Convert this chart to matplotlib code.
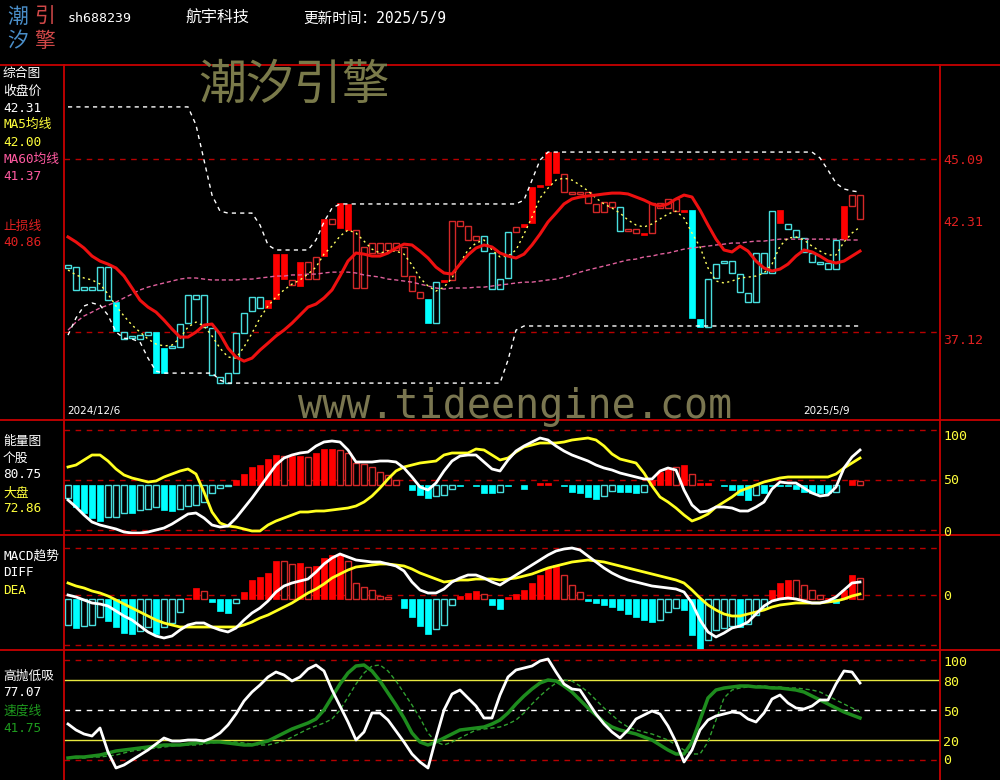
import numpy as np
import matplotlib
matplotlib.use('Agg')
import matplotlib.pyplot as plt
from matplotlib.lines import Line2D

plt.rcParams['font.family'] = ['Noto Sans CJK SC', 'DejaVu Sans']

# ---------------- data ----------------
# candle bodies (top / bottom of the box), kind: R filled red, r hollow red, C filled cyan, c hollow cyan
body_hi = [40.21, 40.11, 39.19, 39.19, 40.11, 40.11, 38.50, 37.12, 36.94, 36.98,
           37.12, 37.12, 36.38, 36.48, 37.49, 38.82, 38.82, 38.82, 37.30, 35.05,
           35.23, 37.07, 38.00, 38.73, 38.73, 38.59, 40.71, 40.71, 39.52, 40.35,
           40.35, 40.58, 42.33, 42.33, 43.06, 43.02, 41.82, 41.04, 41.22, 41.22,
           41.22, 41.22, 41.04, 39.70, 38.96, 38.64, 39.42, 39.52, 42.23, 42.23,
           42.00, 41.54, 41.54, 40.76, 39.56, 41.73, 41.96, 42.10, 43.80, 43.89,
           45.41, 45.41, 44.40, 43.57, 43.57, 43.57, 43.02, 43.11, 43.11, 42.88,
           41.87, 41.87, 41.68, 43.06, 43.06, 43.25, 43.25, 42.74, 42.74, 37.72,
           39.56, 40.25, 40.39, 40.39, 39.79, 38.92, 40.76, 40.76, 42.69, 42.74,
           42.10, 41.82, 41.45, 40.76, 40.35, 40.30, 41.36, 42.92, 43.43, 43.43]
body_lo = [40.07, 39.06, 39.06, 39.06, 39.06, 38.59, 37.17, 36.80, 36.84, 36.80,
           36.98, 35.23, 35.23, 36.38, 36.43, 37.53, 38.64, 37.35, 35.14, 34.77,
           34.77, 35.23, 37.07, 38.09, 38.23, 38.23, 38.64, 39.56, 39.29, 39.24,
           39.56, 39.56, 40.62, 42.10, 41.91, 41.82, 39.15, 39.15, 40.76, 40.76,
           40.90, 40.90, 39.70, 39.01, 38.69, 37.53, 37.53, 39.42, 39.52, 42.00,
           41.36, 41.36, 40.85, 39.10, 39.10, 39.61, 41.73, 41.96, 42.14, 43.80,
           43.89, 44.45, 43.57, 43.48, 43.48, 43.06, 42.65, 42.65, 42.88, 41.77,
           41.77, 41.68, 41.59, 41.68, 42.83, 42.83, 42.69, 42.65, 37.77, 37.35,
           37.35, 39.61, 40.30, 39.84, 38.96, 38.50, 38.50, 39.84, 39.84, 42.14,
           41.87, 41.50, 40.81, 40.35, 40.25, 40.02, 40.02, 41.40, 42.92, 42.33]
kinds = ("ccccccCccc" "cCCccccccc" "cccccRRRrR" "rrRrRRrrrr" "rrrrrCcRrr"
         "rrccccrRRR" "RRrrrrrrrc" "rrRrrrrRCC" "cccccccccR" "cccccccRrr")

ma5 = [39.98, 39.75, 39.61, 39.52, 39.33, 38.87, 38.32, 37.86, 37.44, 37.12,
       36.80, 36.57, 36.48, 36.52, 36.84, 37.35, 37.58, 37.40, 36.94, 36.38,
       35.97, 35.92, 36.43, 37.07, 37.77, 38.32, 38.73, 39.06, 39.33, 39.52,
       39.79, 40.11, 40.71, 41.08, 41.54, 41.82, 41.68, 41.31, 40.94, 40.76,
       40.85, 40.85, 40.71, 40.21, 39.61, 39.24, 39.01, 39.19, 39.61, 40.30,
       40.90, 41.22, 41.36, 40.90, 40.58, 40.62, 40.90, 41.63, 42.42, 43.29,
       43.75, 44.12, 44.21, 44.12, 43.89, 43.62, 43.29, 43.02, 42.83, 42.60,
       42.28, 42.05, 41.96, 42.10, 42.33, 42.56, 42.69, 42.37, 41.68, 41.04,
       40.07, 39.47, 39.38, 39.47, 39.61, 39.65, 39.70, 39.84, 40.25, 41.08,
       41.45, 41.50, 41.36, 41.08, 40.85, 40.67, 40.67, 41.27, 41.68, 41.96]
ma60 = [37.21, 37.58, 37.86, 38.04, 38.23, 38.36, 38.50, 38.69, 38.87, 39.06,
        39.19, 39.29, 39.38, 39.47, 39.56, 39.61, 39.61, 39.56, 39.52, 39.52,
        39.52, 39.52, 39.56, 39.56, 39.61, 39.65, 39.70, 39.70, 39.75, 39.75,
        39.79, 39.79, 39.84, 39.88, 39.88, 39.88, 39.84, 39.75, 39.70, 39.65,
        39.56, 39.52, 39.47, 39.42, 39.33, 39.24, 39.15, 39.10, 39.15, 39.15,
        39.15, 39.19, 39.19, 39.24, 39.29, 39.33, 39.38, 39.42, 39.42, 39.47,
        39.52, 39.56, 39.65, 39.75, 39.88, 39.98, 40.07, 40.16, 40.25, 40.35,
        40.44, 40.48, 40.58, 40.62, 40.71, 40.76, 40.85, 40.94, 40.99, 41.04,
        41.08, 41.13, 41.17, 41.22, 41.22, 41.27, 41.31, 41.31, 41.36, 41.40,
        41.40, 41.40, 41.40, 41.40, 41.40, 41.40, 41.40, 41.36, 41.36, 41.36]
stop_line = [41.50, 41.27, 40.99, 40.62, 40.39, 40.25, 40.07, 39.70, 39.15, 38.59,
             38.27, 38.04, 37.67, 37.26, 36.89, 36.89, 37.12, 37.44, 37.49, 37.03,
             36.38, 35.97, 35.78, 35.92, 36.29, 36.61, 36.94, 37.21, 37.53, 37.90,
             38.27, 38.41, 38.69, 39.06, 39.70, 40.39, 40.76, 40.71, 40.62, 40.62,
             40.76, 40.99, 41.17, 41.13, 40.85, 40.53, 40.11, 39.84, 39.79, 40.25,
             40.67, 40.99, 41.13, 41.04, 40.76, 40.62, 40.53, 40.71, 41.13, 41.63,
             42.19, 42.60, 43.02, 43.25, 43.34, 43.39, 43.43, 43.48, 43.52, 43.52,
             43.48, 43.34, 43.20, 43.02, 42.92, 43.02, 43.25, 43.43, 43.34, 42.74,
             42.05, 41.40, 40.90, 40.81, 41.08, 40.85, 40.39, 40.07, 39.93, 40.02,
             40.25, 40.62, 40.90, 40.81, 40.62, 40.39, 40.30, 40.39, 40.62, 40.85]
band_up = ([47.49] * 16 + [46.66, 45.04, 43.43, 42.69] + [42.60] * 4 + [42.05, 41.13]
           + [40.90] * 5 + [41.36, 42.19, 42.83] + [43.02] * 23 + [43.20, 44.12, 45.04]
           + [45.41] * 34 + [45.14, 44.58, 43.98, 43.71, 43.62, 43.57])
band_dn = ([36.98, 37.77, 38.32, 38.46, 38.36, 37.90, 37.12, 36.84, 36.80, 36.66, 35.92, 35.32]
           + [35.23] * 7 + [34.91] + [34.77] * 35 + [35.83, 37.21] + [37.40] * 43)

# energy panel
energy_bar = [32, 23, 17, 12, 9, 13, 13, 17, 17, 20, 21, 23, 20, 19, 21, 24, 25, 28, 37, 42,
              44, 50, 56, 63, 65, 71, 75, 74, 74, 74, 73, 77, 81, 81, 80, 77, 67, 66, 63, 58,
              55, 50, 45, 40, 35, 32, 34, 35, 41, 44, 45, 44, 37, 37, 38, 44, 45, 41, 45, 47,
              47, 45, 44, 38, 37, 33, 31, 34, 39, 38, 38, 37, 38, 50, 58, 61, 63, 65, 56, 47,
              47, 45, 44, 40, 35, 30, 35, 37, 44, 44, 44, 41, 38, 37, 37, 37, 38, 45, 50, 49]
energy_fill = ("HFFFFHHHFH" "HHFFHHHHHH" "HFFFFFFHFF" "HFFFHHHHHH" "HHFFFFHHHF"
               "FFFFHFFFFF" "FFFFFFFHHF" "FFHFFFHFHF" "FFFFFFHFFF" "FFFFFFHFFH")
stock_energy = [30, 23, 15, 8, 5, 3, 1, -2, -3, -3, -2, 0, 2, 6, 11, 16, 17, 12, 5, 3,
                4, 12, 22, 32, 43, 54, 65, 72, 75, 77, 78, 84, 88, 89, 88, 80, 68, 68, 68, 69,
                69, 68, 62, 53, 43, 40, 47, 59, 69, 74, 75, 75, 68, 61, 59, 70, 79, 84, 88, 92,
                90, 84, 79, 75, 72, 69, 65, 62, 60, 57, 55, 53, 51, 51, 59, 62, 60, 40, 25, 18,
                19, 23, 23, 22, 19, 19, 23, 28, 41, 48, 47, 47, 42, 37, 34, 35, 43, 62, 73, 80]
market_energy = [63, 65, 70, 75, 75, 69, 61, 55, 52, 50, 48, 49, 53, 56, 59, 61, 56, 38, 18, 7,
                 4, 3, 1, -1, -1, 5, 9, 12, 15, 18, 18, 19, 19, 20, 21, 22, 24, 28, 34, 42,
                 51, 59, 63, 65, 67, 68, 69, 75, 77, 77, 77, 81, 80, 75, 70, 72, 78, 83, 85, 87,
                 87, 87, 88, 90, 91, 92, 90, 84, 76, 71, 69, 67, 57, 44, 33, 28, 22, 15, 9, 12,
                 16, 23, 28, 33, 39, 42, 45, 48, 50, 52, 53, 53, 53, 53, 53, 53, 56, 62, 67, 72]

# MACD panel
macd_bar = [-0.30, -0.33, -0.31, -0.30, -0.22, -0.26, -0.32, -0.38, -0.39, -0.36,
            -0.32, -0.39, -0.32, -0.28, -0.17, -0.03, 0.07, 0.04, -0.07, -0.16,
            -0.18, -0.08, 0.03, 0.15, 0.18, 0.22, 0.34, 0.34, 0.31, 0.32,
            0.28, 0.29, 0.37, 0.40, 0.40, 0.34, 0.12, 0.08, 0.05, -0.01,
            -0.02, -0.04, -0.13, -0.22, -0.31, -0.39, -0.34, -0.30, -0.10, -0.01,
            0.02, 0.04, 0.01, -0.10, -0.14, -0.02, 0.01, 0.05, 0.12, 0.20,
            0.27, 0.30, 0.20, 0.10, 0.03, -0.06, -0.08, -0.10, -0.12, -0.15,
            -0.19, -0.22, -0.25, -0.27, -0.25, -0.17, -0.13, -0.15, -0.40, -0.55,
            -0.45, -0.35, -0.33, -0.31, -0.32, -0.29, -0.20, -0.13, 0.05, 0.12,
            0.15, 0.15, 0.10, 0.05, 0.00, -0.03, -0.08, 0.05, 0.20, 0.17]
macd_fill = ("HFHHHFFFFH" "HFHHHFFHFF" "FHFFFFFHHF" "HFFFFHHHHH" "HHFFFFHHHF"
             "FFHFFFFFFF" "FFHHHFFFFF" "FFFFHHHFFF" "HHHHFHHHFF" "FHHHHFFFFH")
diff = [0.00, -0.02, -0.05, -0.08, -0.09, -0.11, -0.16, -0.21, -0.25, -0.31,
        -0.37, -0.41, -0.43, -0.41, -0.35, -0.30, -0.28, -0.28, -0.32, -0.35,
        -0.37, -0.33, -0.25, -0.18, -0.13, -0.06, 0.03, 0.09, 0.12, 0.14,
        0.16, 0.23, 0.31, 0.37, 0.41, 0.38, 0.35, 0.34, 0.33, 0.33,
        0.31, 0.29, 0.24, 0.13, 0.05, 0.02, 0.02, 0.06, 0.13, 0.17,
        0.20, 0.20, 0.17, 0.13, 0.10, 0.15, 0.20, 0.25, 0.30, 0.35,
        0.40, 0.44, 0.46, 0.47, 0.45, 0.39, 0.33, 0.27, 0.22, 0.18,
        0.15, 0.13, 0.11, 0.09, 0.08, 0.07, 0.06, 0.03, -0.08, -0.25,
        -0.37, -0.42, -0.38, -0.33, -0.31, -0.27, -0.19, -0.11, -0.06, -0.04,
        -0.03, -0.04, -0.06, -0.08, -0.08, -0.06, -0.02, 0.05, 0.12, 0.13]
dea = [0.12, 0.09, 0.07, 0.04, 0.02, -0.01, -0.05, -0.09, -0.13, -0.17,
       -0.21, -0.25, -0.28, -0.30, -0.32, -0.32, -0.32, -0.32, -0.32, -0.32,
       -0.32, -0.32, -0.30, -0.27, -0.23, -0.20, -0.16, -0.12, -0.08, -0.03,
       0.02, 0.06, 0.11, 0.17, 0.21, 0.25, 0.28, 0.29, 0.30, 0.31,
       0.31, 0.30, 0.29, 0.26, 0.22, 0.19, 0.16, 0.13, 0.14, 0.15,
       0.15, 0.16, 0.16, 0.16, 0.15, 0.16, 0.17, 0.19, 0.21, 0.24,
       0.27, 0.29, 0.31, 0.33, 0.34, 0.35, 0.34, 0.33, 0.31, 0.29,
       0.27, 0.25, 0.23, 0.21, 0.19, 0.17, 0.15, 0.12, 0.05, -0.03,
       -0.10, -0.15, -0.19, -0.21, -0.21, -0.19, -0.17, -0.15, -0.12, -0.10,
       -0.09, -0.08, -0.08, -0.08, -0.08, -0.07, -0.06, -0.04, -0.01, 0.01]

# 高抛低吸 panel
swing = [36, 30, 26, 24, 32, 8, -8, -5, 0, 5, 10, 16, 22, 19, 19, 20, 20, 19, 22, 27,
         35, 46, 59, 68, 75, 83, 88, 85, 79, 83, 91, 95, 89, 70, 54, 38, 20, 28, 47, 47,
         40, 29, 18, 6, -2, -8, 22, 50, 66, 70, 62, 54, 42, 42, 65, 83, 90, 92, 94, 99,
         101, 88, 76, 71, 70, 58, 46, 36, 28, 22, 30, 41, 45, 49, 46, 34, 18, -2, 10, 30,
         40, 44, 46, 48, 47, 41, 38, 47, 61, 65, 57, 52, 51, 54, 60, 60, 76, 89, 88, 77]
speed = [2, 3, 3, 4, 5, 7, 9, 10, 11, 12, 13, 14, 15, 15, 15, 16, 17, 18, 18, 18,
         17, 16, 15, 15, 17, 19, 23, 27, 31, 34, 37, 41, 50, 63, 76, 87, 94, 95, 89, 79,
         67, 55, 42, 27, 18, 15, 18, 22, 26, 30, 31, 32, 33, 36, 40, 47, 56, 64, 71, 77,
         80, 79, 74, 68, 60, 52, 45, 38, 33, 30, 28, 26, 23, 20, 15, 10, 6, 6, 18, 40,
         62, 70, 72, 73, 74, 74, 73, 73, 72, 72, 71, 70, 68, 64, 60, 56, 52, 48, 45, 42]
speed_slow = [2, 2, 2, 3, 3, 4, 5, 7, 9, 10, 11, 12, 13, 14, 15, 15, 15, 16, 17, 18,
              18, 18, 17, 16, 15, 15, 17, 19, 23, 27, 31, 34, 37, 41, 50, 63, 76, 87, 94, 95,
              89, 79, 67, 55, 42, 27, 18, 15, 18, 22, 26, 30, 31, 32, 33, 36, 40, 47, 56, 64,
              71, 77, 80, 79, 74, 68, 60, 52, 45, 38, 33, 30, 28, 26, 23, 20, 15, 10, 6, 6,
              18, 40, 62, 70, 72, 73, 74, 74, 73, 73, 72, 72, 71, 70, 68, 64, 60, 56, 52, 48]

x = np.arange(len(body_hi))

# ---------------- style ----------------
W, H = 1000, 780
RED = '#ff0000'
RED_H = '#d42828'
CYAN = '#00ffff'
CYAN_H = '#48dede'
GRID = '#b80000'
FRAME = '#c80000'
YEL = '#ffff3c'
NUMFONT = ['DejaVu Sans Mono', 'Noto Sans CJK SC']

fig = plt.figure(figsize=(10, 7.8), dpi=100, facecolor='black')


def panel(top, bot, ylim):
    ax = fig.add_axes([64 / W, 1 - bot / H, (940 - 64) / W, (bot - top) / H])
    ax.set_xlim(-0.5, 109)
    ax.set_ylim(*ylim)
    ax.axis('off')
    return ax


def hline(ax, y, color=GRID, ls=(0, (4, 4)), lw=1):
    ax.axhline(y, color=color, ls=ls, lw=lw, zorder=1)


# ---- main panel ----
ax1 = panel(65, 420, (33.07, 49.42))
hline(ax1, 45.09)
hline(ax1, 37.12)
for i in x:
    k = kinds[i]
    col = RED if k in 'Rr' else CYAN
    if k in 'RC':
        ax1.bar(i, body_hi[i] - body_lo[i], bottom=body_lo[i], width=0.85,
                color=col, edgecolor=col, lw=0.5, zorder=3)
    else:
        ax1.bar(i, body_hi[i] - body_lo[i], bottom=body_lo[i], width=0.72,
                facecolor='black', edgecolor=RED_H if k == 'r' else CYAN_H, lw=1, zorder=3)
ax1.plot(x, ma60, color='#e0609c', lw=1, ls=(0, (3, 2)), zorder=4)
ax1.plot(x, ma5, color='#ffff60', lw=1, ls=(0, (1.5, 2.5)), zorder=5)
ax1.plot(x, stop_line, color='#ee1010', lw=2.2, zorder=6)
ax1.plot(x, band_up, color='white', lw=1, ls=(0, (3, 3)), zorder=5)
ax1.plot(x, band_dn, color='white', lw=1, ls=(0, (3, 3)), zorder=5)

# ---- energy panel ----
ax2 = panel(420, 535, (-5, 110))
for v in (0, 50, 100):
    hline(ax2, v)
for i in x:
    v = energy_bar[i]
    if v == 45:
        continue
    col = RED if v > 45 else CYAN
    if energy_fill[i] == 'F':
        ax2.bar(i, v - 45, bottom=45, width=0.85, color=col, edgecolor=col, lw=0.5, zorder=3)
    else:
        ax2.bar(i, v - 45, bottom=45, width=0.72, facecolor='black',
                edgecolor=RED_H if v > 45 else CYAN_H, lw=1, zorder=3)
ax2.plot(x, market_energy, color='#ffff20', lw=2, zorder=4)
ax2.plot(x, stock_energy, color='white', lw=2, zorder=5)

# ---- MACD panel ----
ax3 = panel(535, 650, (-0.55, 0.60))
for v in (0.47, 0.0, -0.50):
    hline(ax3, v)
for i in x:
    v = macd_bar[i]
    if v == -0.04:
        continue
    col = RED if v > -0.04 else CYAN
    if macd_fill[i] == 'F':
        ax3.bar(i, v + 0.04, bottom=-0.04, width=0.85, color=col, edgecolor=col, lw=0.5, zorder=3)
    else:
        ax3.bar(i, v + 0.04, bottom=-0.04, width=0.72, facecolor='black',
                edgecolor=RED_H if v > -0.04 else CYAN_H, lw=1, zorder=3)
ax3.plot(x, dea, color='#ffff20', lw=2, zorder=4)
ax3.plot(x, diff, color='white', lw=2, zorder=5)

# ---- 高抛低吸 panel ----
ax4 = panel(650, 780, (-20, 110))
hline(ax4, 100)
hline(ax4, 0)
ax4.axhline(80, color='#e8e840', lw=1)
ax4.axhline(20, color='#e8e840', lw=1)
hline(ax4, 50, color='white')
ax4.plot(x, speed_slow, color='#30a030', lw=1, ls=(0, (3, 2)), zorder=3)
ax4.plot(x, speed, color='#1e8c1e', lw=2.5, zorder=4)
ax4.plot(x, swing, color='white', lw=2, zorder=5)

# ---- frame ----
for yy in (65, 420, 535, 650):
    fig.add_artist(Line2D([0, 1], [1 - yy / H] * 2, color=FRAME, lw=1.3))
for xx in (64, 940):
    fig.add_artist(Line2D([xx / W] * 2, [0, 1 - 65 / H], color=FRAME, lw=1.3))


def ftext(px, py, s, color='white', size=9, family=None, **kw):
    fig.text(px / W, 1 - py / H, s, color=color, fontsize=size, va='center',
             family=family if family else NUMFONT, **kw)


# header
ftext(18, 17, '潮', '#4a8ec8', 15, ['Noto Sans CJK SC'], ha='center')
ftext(18, 41, '汐', '#4a8ec8', 15, ['Noto Sans CJK SC'], ha='center')
ftext(45, 17, '引', '#d04848', 15, ['Noto Sans CJK SC'], ha='center')
ftext(45, 41, '擎', '#d04848', 15, ['Noto Sans CJK SC'], ha='center')
ftext(68, 18, 'sh688239', 'white', 9.5)
ftext(185, 18, '航宇科技', 'white', 11.5, ['Noto Sans CJK SC'])
ftext(303, 18, '更新时间：2025/5/9', 'white', 10.5)

# watermarks
ftext(198, 85, '潮汐引擎', '#7a7a4a', 34.5, ['Noto Sans CJK SC'])
ftext(298, 407, 'www.tideengine.com', '#7a7650', 28.8, ['DejaVu Sans Mono'])
ftext(67, 411, '2024/12/6', 'white', 7.5, ['DejaVu Sans'])
ftext(803, 411, '2025/5/9', 'white', 7.5, ['DejaVu Sans'])

# left labels
left_labels = [('综合图', 73, 'white'), ('收盘价', 91, 'white'), ('42.31', 108, 'white'),
               ('MA5均线', 124, YEL), ('42.00', 142, YEL),
               ('MA60均线', 159, '#ff5aa0'), ('41.37', 176, '#ff5aa0'),
               ('止损线', 226, '#e02020'), ('40.86', 243, '#e02020'),
               ('能量图', 441, 'white'), ('个股', 458, 'white'), ('80.75', 475, 'white'),
               ('大盘', 493, YEL), ('72.86', 509, YEL),
               ('MACD趋势', 556, 'white'), ('DIFF', 573, 'white'), ('DEA', 591, YEL),
               ('高抛低吸', 676, 'white'), ('77.07', 693, 'white'),
               ('速度线', 711, '#1e9a1e'), ('41.75', 728, '#1e9a1e')]
for s, py, c in left_labels:
    ftext(3, py, s, c, 9.2)

# right labels
for s, py in [('45.09', 161), ('42.31', 222), ('37.12', 340)]:
    ftext(943, py, s, '#e02020', 9.5)
for s, py in [('100', 436), ('50', 481), ('0', 532), ('0', 596),
              ('100', 662), ('80', 682), ('50', 712), ('20', 742), ('0', 760)]:
    ftext(943, py, s, YEL, 9.5)

fig.savefig('out.png', dpi=100, facecolor='black')
